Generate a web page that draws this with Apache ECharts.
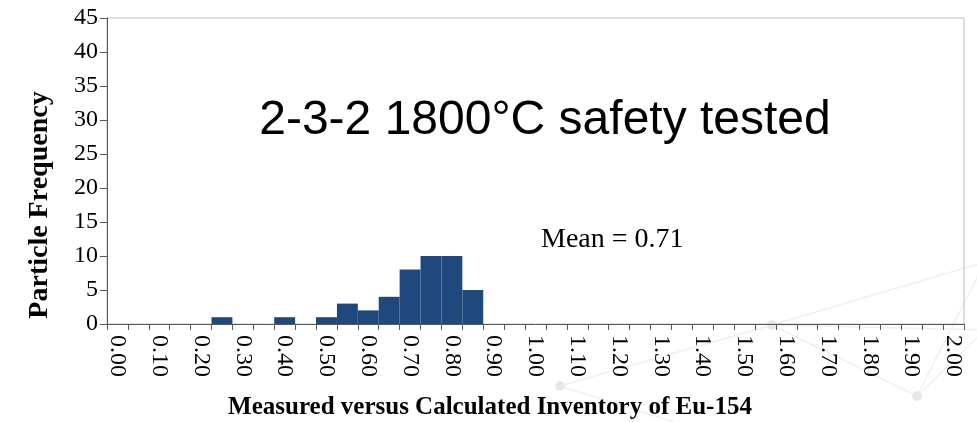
<!DOCTYPE html>
<html>
<head>
<meta charset="utf-8">
<script src="https://cdn.jsdelivr.net/npm/echarts@6/dist/echarts.min.js"></script>
<style>
  html, body { margin: 0; padding: 0; background: #ffffff; }
  #chart { width: 977px; height: 422px; }
</style>
</head>
<body>
<div id="chart"></div>
<script>
// Histogram bins (lower edge of each 0.05-wide bin) and particle counts
const binLabels = [
  '0.00','0.05','0.10','0.15','0.20','0.25','0.30','0.35','0.40','0.45',
  '0.50','0.55','0.60','0.65','0.70','0.75','0.80','0.85','0.90','0.95',
  '1.00','1.05','1.10','1.15','1.20','1.25','1.30','1.35','1.40','1.45',
  '1.50','1.55','1.60','1.65','1.70','1.75','1.80','1.85','1.90','1.95','2.00'
];
const counts = [
  0, 0, 0, 0, 0, 1, 0, 0, 1, 0,
  1, 3, 2, 4, 8, 10, 10, 5, 0, 0,
  0, 0, 0, 0, 0, 0, 0, 0, 0, 0,
  0, 0, 0, 0, 0, 0, 0, 0, 0, 0, 0
];
const yTicks = { min: 0, max: 45, step: 5 };
const chartTitle = '2-3-2 1800°C safety tested';
const meanText = 'Mean = 0.71';
const xName = 'Measured versus Calculated Inventory of Eu-154';
const yName = 'Particle Frequency';

const serif = '"Liberation Serif", "Times New Roman", serif';
const sans = '"Liberation Sans", Arial, sans-serif';

// faint network pattern in the lower-right background
const netNodes = [[772, 325], [560, 386], [917, 396], [985, 262], [700, 430], [985, 330]];
const netLinks = [[0, 1], [0, 2], [0, 3], [1, 4], [2, 3], [2, 5], [0, 5]];
const netGraphics = [];
netLinks.forEach(function (l) {
  const a = netNodes[l[0]], b = netNodes[l[1]];
  netGraphics.push({
    type: 'line', z: -10, silent: true,
    shape: { x1: a[0], y1: a[1], x2: b[0], y2: b[1] },
    style: { stroke: '#f0f0f0', lineWidth: 1.5 }
  });
});
[0, 1, 2].forEach(function (i) {
  netGraphics.push({
    type: 'circle', z: -9, silent: true,
    shape: { cx: netNodes[i][0], cy: netNodes[i][1], r: 5 },
    style: { fill: '#e8e8e8' }
  });
});

const chart = echarts.init(document.getElementById('chart'));
chart.setOption({
  animation: false,
  backgroundColor: '#ffffff',
  grid: {
    left: 107, right: 13, top: 18, bottom: 98,
    show: true, borderColor: '#bfbfbf', borderWidth: 1
  },
  xAxis: {
    type: 'category',
    data: binLabels,
    boundaryGap: true,
    axisLine: { lineStyle: { color: '#595959', width: 1 } },
    axisTick: { show: true, interval: 0, length: 6, lineStyle: { color: '#595959' } },
    axisLabel: {
      interval: 1,
      rotate: -90,
      margin: 11,
      fontFamily: serif,
      fontSize: 24,
      color: '#000000'
    },
    splitLine: { show: false }
  },
  yAxis: {
    type: 'value',
    min: yTicks.min,
    max: yTicks.max,
    interval: yTicks.step,
    axisLine: { show: true, lineStyle: { color: '#595959', width: 1 } },
    axisTick: { show: true, length: 7, lineStyle: { color: '#595959' } },
    axisLabel: { margin: 9, fontFamily: serif, fontSize: 24, color: '#000000' },
    splitLine: { show: false }
  },
  series: [{
    type: 'bar',
    data: counts,
    barCategoryGap: '0%',
    itemStyle: { color: '#1f497d' }
  }],
  graphic: netGraphics.concat([
    {
      type: 'text', x: 545, y: 121,
      style: {
        text: chartTitle, fontFamily: sans, fontSize: 48,
        fill: '#000000', align: 'center', verticalAlign: 'middle'
      }
    },
    {
      type: 'text', x: 541, y: 240,
      style: {
        text: meanText, fontFamily: serif, fontSize: 28,
        fill: '#000000', align: 'left', verticalAlign: 'middle'
      }
    },
    {
      type: 'text', x: 490, y: 408,
      style: {
        text: xName, fontFamily: serif, fontSize: 25, fontWeight: 'bold',
        fill: '#000000', align: 'center', verticalAlign: 'middle'
      }
    },
    {
      type: 'text', x: 40, y: 205, rotation: Math.PI / 2,
      style: {
        text: yName, fontFamily: serif, fontSize: 28, fontWeight: 'bold',
        fill: '#000000', align: 'center', verticalAlign: 'middle'
      }
    }
  ])
});
</script>
</body>
</html>
